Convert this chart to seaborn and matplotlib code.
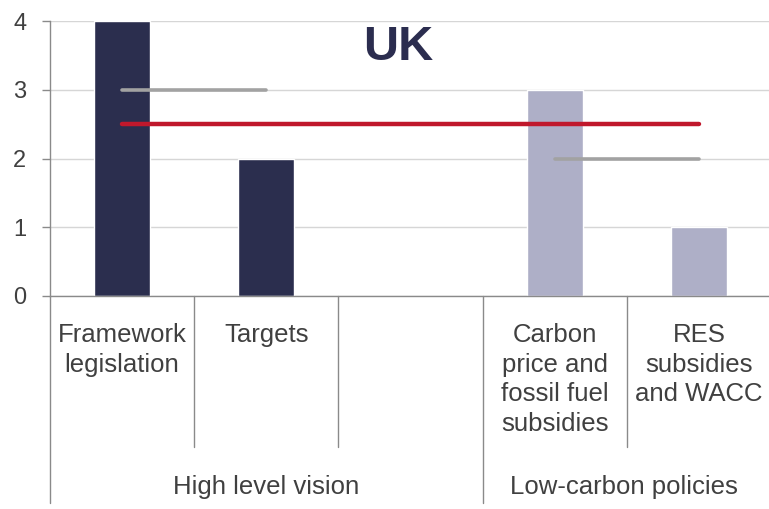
import matplotlib
matplotlib.use("Agg")
import matplotlib.pyplot as plt
import matplotlib.transforms as mtransforms
import numpy as np
import pandas as pd
import seaborn as sns

# ---- data ----
categories = ["Framework\nlegislation", "Targets", "(blank)",
              "Carbon\nprice and\nfossil fuel\nsubsidies", "RES\nsubsidies\nand WACC"]
tick_labels = ["Framework\nlegislation", "Targets", "",
               "Carbon\nprice and\nfossil fuel\nsubsidies", "RES\nsubsidies\nand WACC"]
scores = [4, 2, np.nan, 3, 1]
groups = ["High level vision", "High level vision", "High level vision",
          "Low-carbon policies", "Low-carbon policies"]
group_avg = [3, 3, np.nan, 2, 2]          # grey lines
overall_avg = [2.5, 2.5, 2.5, 2.5, 2.5]   # red line
group_names = ["High level vision", "Low-carbon policies"]
y_ticks = [0, 1, 2, 3, 4]
title = "UK"

navy = "#2b2e4e"
lavender = "#aeafc7"
palette = {"High level vision": navy, "Low-carbon policies": lavender}

sns.set_style("white")
plt.rcParams["font.family"] = ["Liberation Sans", "DejaVu Sans"]

W, H = 769, 509
fig = plt.figure(figsize=(W / 100, H / 100), dpi=100)
ax_left, ax_right, ax_top, ax_bottom = 50, 771, 21, 296
ax = fig.add_axes([ax_left / W, (H - ax_bottom) / H,
                   (ax_right - ax_left) / W, (ax_bottom - ax_top) / H])

df = pd.DataFrame({"category": categories, "score": scores, "group": groups})
sns.barplot(data=df, x="category", y="score", hue="group", palette=palette,
            order=categories, dodge=False, width=0.39, legend=False,
            saturation=1, ax=ax, zorder=2)

xi = np.arange(len(categories))
ax.plot(xi, overall_avg, color="#c0182c", lw=3.2, solid_capstyle="round", zorder=3)
ax.plot(xi, group_avg, color="#a2a2a2", lw=2.6, solid_capstyle="round", zorder=4)

ax.set_xlim(-0.5, len(categories) - 0.5)
ax.set_ylim(0, 4)
ax.set_yticks(y_ticks)
ax.set_yticklabels([str(v) for v in y_ticks])
ax.yaxis.grid(True, color="#d6d6d6", lw=1.0, zorder=0)
ax.set_axisbelow(True)

for s in ["top", "right"]:
    ax.spines[s].set_visible(False)
ax.spines["left"].set_color("#8a8a8a")
ax.spines["bottom"].set_color("#8a8a8a")
ax.spines["left"].set_linewidth(1.0)
ax.spines["bottom"].set_linewidth(1.0)

text_color = "#404040"
ax.tick_params(axis="y", length=6, width=1, color="#8a8a8a", pad=11,
               labelsize=17, labelcolor=text_color, direction="out", left=True)
ax.set_xticks(xi)
ax.set_xticklabels(tick_labels)
ax.tick_params(axis="x", length=0, pad=19.5, labelsize=18.5, labelcolor=text_color)
for t in ax.get_xticklabels():
    t.set_linespacing(1.3)
ax.set_xlabel("")
ax.set_ylabel("")

# category separators below axis
trans = mtransforms.blended_transform_factory(ax.transData, ax.transAxes)
short_y = (ax_bottom - 447) / (ax_bottom - ax_top)
long_y = (ax_bottom - 503) / (ax_bottom - ax_top)
for b in [0.5, 1.5, 3.5]:
    ax.plot([b, b], [0, short_y], color="#8a8a8a", lw=1.0, transform=trans, clip_on=False)
ax.plot([2.5, 2.5], [0, long_y], color="#8a8a8a", lw=1.0, transform=trans, clip_on=False)
ax.plot([-0.5, -0.5], [0, long_y], color="#8a8a8a", lw=1.0, transform=trans, clip_on=False)

# group labels
group_y = (ax_bottom - 487) / (ax_bottom - ax_top)
ax.text(1.0, group_y, group_names[0], transform=trans, ha="center", va="center",
        fontsize=18.5, color=text_color)
ax.text(3.48, group_y, group_names[1], transform=trans, ha="center", va="center",
        fontsize=18.5, color=text_color)

fig.text(398 / W, 1 - 60 / H, title, ha="center", va="baseline",
         fontsize=35, fontweight="bold", color="#2b2d4f")

fig.savefig("out.png", dpi=100)
